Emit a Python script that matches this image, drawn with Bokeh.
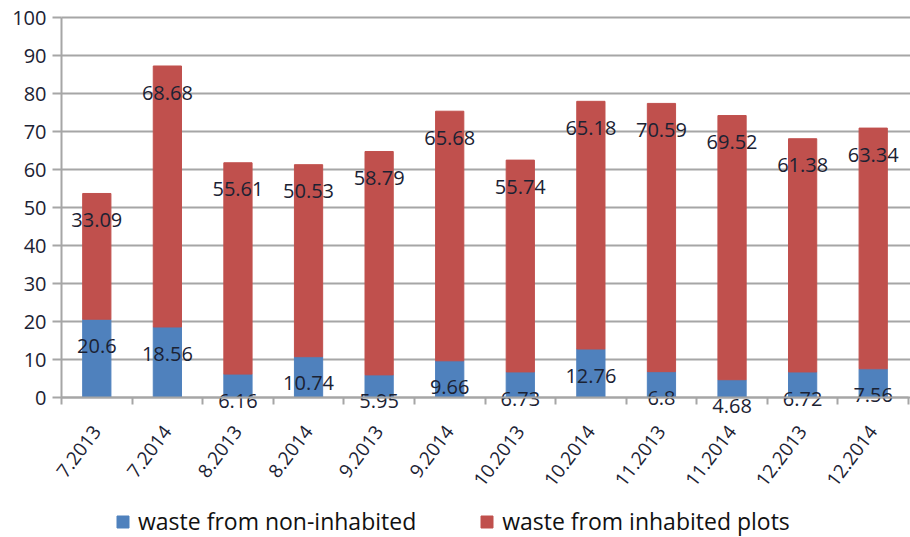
import math
from bokeh.plotting import figure
from bokeh.models import (Range1d, FixedTicker, Legend, LegendItem, ColumnDataSource,
                          LinearAxis)
from bokeh.core.properties import value
from bokeh.embed import file_html
from bokeh.resources import INLINE

categories = ["7.2013", "7.2014", "8.2013", "8.2014", "9.2013", "9.2014",
              "10.2013", "10.2014", "11.2013", "11.2014", "12.2013", "12.2014"]
non_inhabited = [20.6, 18.56, 6.16, 10.74, 5.95, 9.66, 6.73, 12.76, 6.8, 4.68, 6.72, 7.56]
inhabited = [33.09, 68.68, 55.61, 50.53, 58.79, 65.68, 55.74, 65.18, 70.59, 69.52, 61.38, 63.34]
series_names = ["waste from non-inhabited", "waste from inhabited plots"]
y_ticks = [0, 10, 20, 30, 40, 50, 60, 70, 80, 90, 100]

BLUE = "#4F81BD"
RED = "#C0504D"
GRID = "#A6A6A6"
TXT = "#1B2233"
FONT = "Open Sans"
LABEL_DROP = 7.0      # value labels sit just inside the top of each segment
CAT_LABEL_Y = -8.0    # where the rotated category labels end (data units)

n = len(categories)
xs = list(range(n))
totals = [a + b for a, b in zip(non_inhabited, inhabited)]

W, H = 910, 537
PX_LEFT, PX_RIGHT, PX_TOP, PX_ZERO = 61, 908, 17, 397
ux = (PX_RIGHT - PX_LEFT) / n
uy = (PX_ZERO - PX_TOP) / 100.0
x_lo = -0.5 - PX_LEFT / ux
x_hi = n - 0.5 + (W - PX_RIGHT) / ux
y_hi = 100 + PX_TOP / uy
y_lo = -(H - PX_ZERO) / uy

src = ColumnDataSource(dict(
    x=xs, blue=non_inhabited, red=inhabited, total=totals,
    blue_lbl=[str(v) for v in non_inhabited],
    red_lbl=[str(v) for v in inhabited],
    blue_y=[v - LABEL_DROP for v in non_inhabited],
    red_y=[t - LABEL_DROP for t in totals],
    cat=categories, cat_y=[CAT_LABEL_Y] * n,
))

p = figure(width=W, height=H, output_backend="svg", toolbar_location=None,
           x_range=Range1d(x_lo, x_hi), y_range=Range1d(y_lo, y_hi),
           x_axis_location=None, y_axis_location=None, min_border=0)
p.outline_line_color = None
p.background_fill_color = "white"
p.border_fill_color = "white"
p.grid.visible = False

p.segment(x0=[-0.5] * len(y_ticks), x1=[x_hi] * len(y_ticks),
          y0=y_ticks, y1=y_ticks, line_color=GRID, line_width=2)

r_blue = p.vbar(x="x", bottom=0, top="blue", width=0.4, source=src,
                fill_color=BLUE, line_color=BLUE)
r_red = p.vbar(x="x", bottom="blue", top="total", width=0.4, source=src,
               fill_color=RED, line_color=RED)

p.text(x="x", y="blue_y", text="blue_lbl", source=src, text_align="center",
       text_baseline="middle", text_font=value(FONT), text_font_size="20px",
       text_color=TXT)
p.text(x="x", y="red_y", text="red_lbl", source=src, text_align="center",
       text_baseline="middle", text_font=value(FONT), text_font_size="20px",
       text_color=TXT)

p.text(x="x", y="cat_y", text="cat", source=src, angle=53, angle_units="deg",
       text_align="right", text_baseline="middle", text_font=value(FONT),
       text_font_size="19px", text_color=TXT)

yaxis = LinearAxis(fixed_location=-0.5, ticker=FixedTicker(ticks=y_ticks), bounds=(0, 100))
yaxis.axis_line_color = GRID
yaxis.axis_line_width = 2
yaxis.major_tick_line_color = GRID
yaxis.major_tick_line_width = 2
yaxis.major_tick_out = 9
yaxis.major_tick_in = 0
yaxis.minor_tick_line_color = None
yaxis.major_label_standoff = 6
yaxis.major_label_text_font = FONT
yaxis.major_label_text_font_size = "20px"
yaxis.major_label_text_color = TXT
p.add_layout(yaxis, "left")

xaxis = LinearAxis(fixed_location=0, bounds=(-0.5, n - 0.5),
                   ticker=FixedTicker(ticks=[], minor_ticks=[i - 0.5 for i in range(n + 1)]))
xaxis.axis_line_color = GRID
xaxis.axis_line_width = 2
xaxis.major_tick_line_color = None
xaxis.major_label_text_font_size = "0px"
xaxis.minor_tick_line_color = GRID
xaxis.minor_tick_line_width = 2
xaxis.minor_tick_out = 7
xaxis.minor_tick_in = 0
p.add_layout(xaxis, "below")

legend = Legend(items=[LegendItem(label=series_names[0], renderers=[r_blue]),
                       LegendItem(label=series_names[1], renderers=[r_red])],
                orientation="horizontal", location=(115, 0),
                border_line_color=None, background_fill_alpha=0,
                label_text_font=FONT, label_text_font_size="23px",
                label_text_color="#111111", glyph_width=15, glyph_height=15,
                spacing=63, padding=0, margin=0, label_standoff=8)
p.add_layout(legend, "center")

open("out.html", "w").write(file_html(p, INLINE))
